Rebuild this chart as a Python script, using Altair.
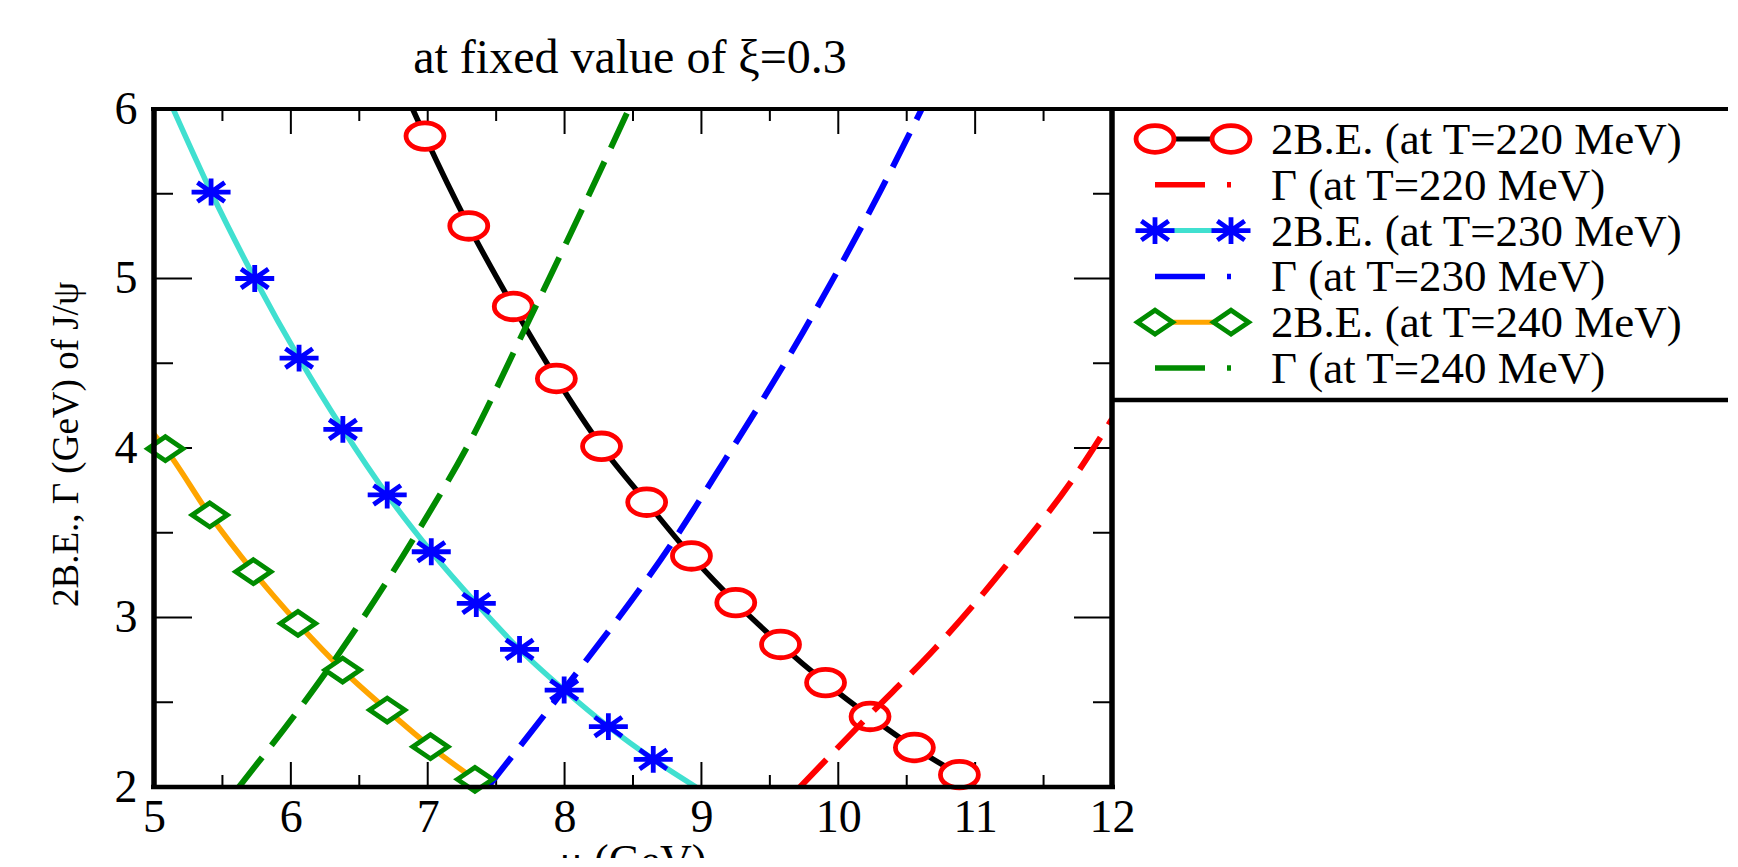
import altair as alt
import pandas as pd

# ---------------- data ----------------
# 2B.E. at T=220 MeV (red open circles on black line)
be220_x = [6.98, 7.30, 7.625, 7.94, 8.27, 8.60, 8.927, 9.251, 9.578, 9.907, 10.232, 10.556, 10.885]
be220_y = [5.84, 5.31, 4.835, 4.41, 4.01, 3.68, 3.363, 3.088, 2.841, 2.616, 2.416, 2.233, 2.073]
be220_line_x = [6.89] + be220_x
be220_line_y = [6.0] + be220_y

# 2B.E. at T=230 MeV (blue asterisks on turquoise line)
be230_x = [5.417, 5.736, 6.06, 6.38, 6.704, 7.026, 7.355, 7.671, 7.997, 8.32, 8.648]
be230_y = [5.51, 5.00, 4.53, 4.11, 3.723, 3.388, 3.083, 2.812, 2.572, 2.356, 2.163]
be230_line_x = [5.14] + be230_x + [8.96]
be230_line_y = [6.0] + be230_y + [2.0]

# 2B.E. at T=240 MeV (green open diamonds on orange line)
be240_x = [5.083, 5.407, 5.726, 6.052, 6.378, 6.704, 7.02, 7.345]
be240_y = [3.996, 3.605, 3.270, 2.965, 2.690, 2.454, 2.238, 2.045]
be240_line_x = [5.0] + be240_x
be240_line_y = [4.08] + be240_y

# Gamma (thermal width) curves, dashed
g220_x = [9.72, 10.21, 10.71, 11.26, 11.76, 12.0]
g220_y = [2.0, 2.41, 2.82, 3.34, 3.87, 4.17]
g230_x = [7.44, 8.0, 8.81, 9.11, 9.74, 10.31, 10.61]
g230_y = [2.0, 2.58, 3.47, 3.85, 4.68, 5.52, 6.0]
g240_x = [5.62, 6.32, 6.93, 7.31, 7.72, 8.10, 8.47]
g240_y = [2.0, 2.75, 3.51, 4.04, 4.72, 5.36, 6.0]

x_major = [5, 6, 7, 8, 9, 10, 11, 12]
x_minor = [5.5, 6.5, 7.5, 8.5, 9.5, 10.5, 11.5]
y_major = [2, 3, 4, 5, 6]
y_minor = [2.5, 3.5, 4.5, 5.5]

legend_labels = [
    "2B.E. (at T=220 MeV)",
    "Γ (at T=220 MeV)",
    "2B.E. (at T=230 MeV)",
    "Γ (at T=230 MeV)",
    "2B.E. (at T=240 MeV)",
    "Γ (at T=240 MeV)",
]
title_text = "at fixed value of ξ=0.3"
x_title = "μ  (GeV)"
y_title = "2B.E., Γ (GeV) of J/ψ"

# ---------------- styling ----------------
W, H = 958, 678
FONT = "Liberation Serif"
RED, BLUE, GREEN = "#ff0000", "#0000ff", "#008b00"
CYAN, ORANGE, BLACK = "#40e0d0", "#ffa500", "#000000"
ELLIPSE = "M-1,0A1,0.70,0,1,1,1,0A1,0.70,0,1,1,-1,0Z"
ASTER = "M-1,0L1,0M0,-0.69L0,0.69M-0.7,-0.49L0.7,0.49M-0.7,0.49L0.7,-0.49"
DIAMOND = "M-1,0L0,-0.68L1,0L0,0.68Z"
DASH = [38, 15]
MSW = 4.8  # marker stroke width

xs = alt.Scale(domain=[5, 12], nice=False, zero=False)
ys = alt.Scale(domain=[2, 6], nice=False, zero=False)
one = pd.DataFrame({"k": [0]})

x_axis = alt.Axis(values=x_major, format="d", labelFont=FONT, labelFontSize=46,
                  labelColor=BLACK, labelPadding=8, labelFlush=False, labelOverlap=False,
                  ticks=False, tickSize=0, domain=False, grid=False, title=None)
y_axis = alt.Axis(values=y_major, format="d", labelFont=FONT, labelFontSize=46,
                  labelColor=BLACK, labelPadding=17, labelOverlap=False,
                  ticks=False, tickSize=0, domain=False, grid=False,
                  title=y_title, titleFont=FONT, titleFontSize=37, titleFontWeight="normal",
                  titleColor=BLACK, titleAngle=270, titleX=-77, titleY=335,
                  titleAlign="center", titleBaseline="alphabetic")


def X(field="x"):
    return alt.X(f"{field}:Q", scale=xs, axis=x_axis)


def Y(field="y"):
    return alt.Y(f"{field}:Q", scale=ys, axis=y_axis)


def xy(x, y):
    return pd.DataFrame({"x": x, "y": y})


def line(x, y, color, width, dash=None):
    kw = dict(color=color, strokeWidth=width, clip=True, interpolate="monotone", strokeCap="butt")
    if dash:
        kw["strokeDash"] = dash
    return alt.Chart(xy(x, y)).mark_line(**kw).encode(x=X(), y=Y())


def mark_kw(shape, size, stroke, fill):
    kw = dict(shape=shape, size=size, stroke=stroke, strokeWidth=MSW, opacity=1,
              strokeOpacity=1, strokeJoin="miter", strokeCap="butt")
    if fill:
        kw.update(filled=True, fill=fill, fillOpacity=1)
    else:
        kw.update(filled=False, fillOpacity=0)
    return kw


def pts(x, y, shape, size, stroke, fill=None):
    return alt.Chart(xy(x, y)).mark_point(**mark_kw(shape, size, stroke, fill)).encode(x=X(), y=Y())


def rule_px(x, x2, y, y2, width, color=BLACK, dash=None):
    kw = dict(color=color, strokeWidth=width, strokeCap="butt")
    if dash:
        kw["strokeDash"] = dash
    return alt.Chart(one).mark_rule(**kw).encode(
        x=alt.value(x), x2=alt.value(x2), y=alt.value(y), y2=alt.value(y2)
    )


def sym_px(x, y, shape, size, stroke, fill=None):
    return alt.Chart(one).mark_point(**mark_kw(shape, size, stroke, fill)).encode(
        x=alt.value(x), y=alt.value(y))


def text_px(x, y, txt, size, align="left", baseline="alphabetic"):
    return alt.Chart(one).mark_text(
        text=txt, font=FONT, fontSize=size, color=BLACK, align=align, baseline=baseline
    ).encode(x=alt.value(x), y=alt.value(y))


layers = []

# inward ticks on all four sides
def xticks(vals, y0, y1):
    return alt.Chart(pd.DataFrame({"v": vals})).mark_rule(color=BLACK, strokeWidth=2).encode(
        x=X("v"), y=alt.value(y0), y2=alt.value(y1))


def yticks(vals, x0, x1):
    return alt.Chart(pd.DataFrame({"v": vals})).mark_rule(color=BLACK, strokeWidth=2).encode(
        y=Y("v"), x=alt.value(x0), x2=alt.value(x1))


layers += [
    xticks(x_major, H, H - 25), xticks(x_minor, H, H - 12),
    xticks(x_major, 0, 25), xticks(x_minor, 0, 12),
    yticks(y_major, 0, 38), yticks(y_minor, 0, 19),
    yticks(y_major, W, W - 38), yticks(y_minor, W, W - 19),
]

# data series in drawing order
layers += [
    line(be220_line_x, be220_line_y, BLACK, 5.5),
    pts(be220_x, be220_y, ELLIPSE, 1440, RED, fill="white"),
    line(g220_x, g220_y, RED, 6, DASH),
    line(be230_line_x, be230_line_y, CYAN, 5.5),
    pts(be230_x, be230_y, ASTER, 1521, BLUE),
    line(g230_x, g230_y, BLUE, 6, DASH),
    line(be240_line_x, be240_line_y, ORANGE, 5.5),
    pts(be240_x, be240_y, DIAMOND, 1240, GREEN, fill="white"),
    line(g240_x, g240_y, GREEN, 6, DASH),
]

# frame and legend box
layers += [
    rule_px(0, 0, 0, H, 5.5),
    rule_px(W, W, 0, H, 5.5),
    rule_px(-3, 1700, 0, 0, 4),
    rule_px(-3, W + 3, H, H, 4.3),
    rule_px(W, 1700, 291, 291, 4.5),
]

# legend entries
row_y = [30 + 45.8 * i for i in range(6)]
sx1, sx2, tx = 1001, 1077, 1117
styles = [
    ("be", BLACK, ELLIPSE, 1440, RED, "white"),
    ("g", RED, None, None, None, None),
    ("be", CYAN, ASTER, 1521, BLUE, None),
    ("g", BLUE, None, None, None, None),
    ("be", ORANGE, DIAMOND, 1240, GREEN, "white"),
    ("g", GREEN, None, None, None, None),
]
for ry, label, (kind, lcol, shp, sz, scol, fcol) in zip(row_y, legend_labels, styles):
    if kind == "be":
        layers.append(rule_px(sx1, sx2, ry, ry, 5, lcol))
        layers.append(sym_px(sx1, ry, shp, sz, scol, fcol))
        layers.append(sym_px(sx2, ry, shp, sz, scol, fcol))
    else:
        layers.append(rule_px(sx1, sx2, ry, ry, 5.5, lcol, dash=[50, 22]))
    layers.append(text_px(tx, ry + 1, label, 45, baseline="middle"))

# titles
layers.append(text_px(476, -36, title_text, 48, align="center"))
layers.append(text_px(479, 766, x_title, 44, align="center"))

chart = alt.layer(*layers).properties(
    width=W, height=H,
    padding={"left": 146, "top": 101, "right": 616, "bottom": 71},
    autosize=alt.AutoSizeParams(type="none"),
).configure_view(stroke=None).configure(font=FONT, background="white")

chart.save("out.html", embed_options={"renderer": "svg", "actions": False})
